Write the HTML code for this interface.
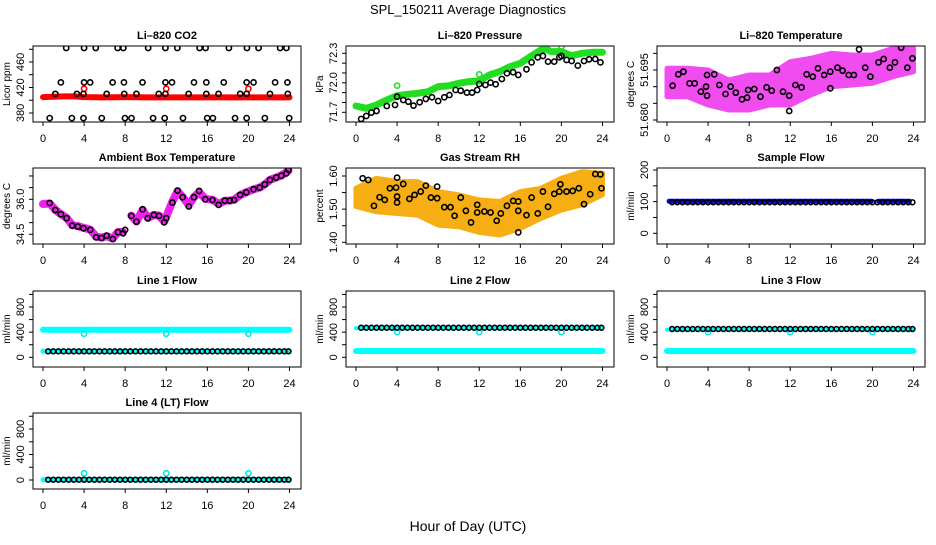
<!DOCTYPE html>
<html><head><meta charset="utf-8"><style>
html,body{margin:0;padding:0;background:#fff;}
svg text{font-family:"Liberation Sans",Arial,sans-serif;}
</style></head><body>
<svg id="chart" width="936" height="540" viewBox="0 0 936 540" xmlns="http://www.w3.org/2000/svg">
<rect x="0" y="0" width="936" height="540" fill="#fff"/>
<text x="468" y="14" text-anchor="middle" font-size="13">SPL_150211  Average Diagnostics</text>
<text x="468" y="531" text-anchor="middle" font-size="14">Hour of Day (UTC)</text>
</svg>
<script>
// ---------- data ----------
const xTicks = [0,4,8,12,16,20,24];
// CO2
const co2BlackH = [2.26,4.0,5.14,7.27,7.82,10.24,11.92,13.08,15.25,15.83,18.1,19.86,20.99,23.09,23.7,
  0.65,2.81,3.94,5.72,7.98,8.62,10.72,11.85,13.63,15.99,16.54,18.7,19.83,21.6,23.97,
  1.74,4,4.59,6.78,7.88,9.69,11.92,12.56,14.7,15.9,17.6,19.83,20.5,22.6,23.8,
  1.2,3.3,3.94,6.2,7.91,9.1,11.27,11.92,14.18,15.9,17.09,19.2,19.83,22.1,23.84];
const co2BlackV = [482,482,482,482,482,482,482,482,482,482,482,482,482,482,482,
  372,372,372,372,372,372,372,372,372,372,372,372,372,372,372,
  428,428,428,428,428,428,428,428,428,428,428,428,428,428,428,
  410,410,410,410,410,410,410,410,410,410,410,410,410,410,410];
const co2RedH = [0,1,2,3,4,6,8,10,12,14,16,18,20,22,24];
const co2RedV = [405,405.5,406,406,405,404.5,405,404.5,404.5,404.5,404.5,404.5,404.5,404.5,404.5];
const co2RedSpikeH = [4,12,20];
const co2RedSpikeV = [418,418,418];
// Pressure
const presGreenH = [0,1,2,3,4,5,6,7,8,9,10,11,12,13,14,15,16,17,18,18.5,19,20,21,22,23,24];
const presGreenV = [71.764,71.741,71.775,71.825,71.869,71.883,71.893,71.910,71.961,71.968,71.995,72.012,72.019,72.080,72.114,72.164,72.198,72.266,72.334,72.344,72.317,72.317,72.276,72.300,72.310,72.310];
const presGreenSpikeH = [4,12,20];
const presGreenSpikeV = [71.971,72.086,72.368];
const presBlackH = [0.5,1,1.5,2,3,3.8,4,4.6,5.1,5.6,6.2,6.8,7.4,8,8.6,9.1,9.7,10.2,10.8,11.3,11.8,12,12.6,13.1,13.6,14.2,14.7,15.3,15.8,16.6,17.1,17.7,18.2,18.7,19.3,19.8,20,20.5,21,21.6,22.2,22.7,23.3,23.8];
const presBlackV = [71.632,71.663,71.697,71.714,71.764,71.775,71.859,71.825,71.808,71.768,71.802,71.836,71.853,71.815,71.853,71.876,71.927,71.920,71.900,71.900,71.927,71.988,71.978,72.002,71.985,72.039,72.097,72.107,72.080,72.137,72.208,72.259,72.273,72.215,72.215,72.259,72.273,72.232,72.222,72.175,72.222,72.239,72.242,72.208];
// Li-820 temperature
const tempBandH = [0,2,4,6,8,10,12,14,16,18,20,22,24];
const tempBandHi = [51.6955,51.6955,51.695,51.692,51.6935,51.6935,51.6975,51.6985,51.700,51.6995,51.6995,51.7015,51.7015];
const tempBandLo = [51.687,51.687,51.6845,51.683,51.683,51.6845,51.6845,51.6875,51.690,51.6905,51.691,51.693,51.6945];
const tempBlackH = [0.55,1.1,1.6,2.2,2.7,3.3,3.8,3.9,3.9,4.6,5.1,5.7,6.2,6.7,7.3,7.8,7.9,8.5,9.1,9.7,10.2,10.7,11.3,11.9,11.9,12.5,13.1,13.6,14.2,14.7,15.3,15.9,15.9,16.6,17.1,17.7,18.2,18.7,19.3,19.8,20.6,21.1,21.7,22.2,22.8,23.4,23.9];
const tempBlackV = [51.6903,51.6937,51.6945,51.691,51.691,51.6885,51.690,51.6935,51.6873,51.6937,51.6905,51.6878,51.690,51.6882,51.6862,51.6867,51.689,51.6893,51.687,51.6898,51.6888,51.695,51.6885,51.6873,51.6827,51.6905,51.6898,51.6937,51.693,51.6955,51.6935,51.6895,51.6945,51.6957,51.6948,51.6935,51.6935,51.7012,51.6957,51.693,51.6973,51.6983,51.6957,51.6973,51.7017,51.6957,51.6985];
// Ambient box temperature
const ambBlackH = [0.65,1.2,1.74,2.3,2.84,3.4,3.94,4.6,5.17,5.7,6.2,6.8,7.3,7.8,8,8.6,9.1,9.7,10.2,10.8,11.3,11.8,12,12.6,13.1,13.6,14.2,14.7,15.2,15.8,16.5,17.1,17.7,18.2,18.6,19.2,19.8,20.5,21.1,21.6,22.1,22.7,23.2,23.7,23.9];
const ambBlackV = [35.84,35.54,35.36,35.19,34.87,34.83,34.76,34.69,34.37,34.34,34.44,34.30,34.59,34.54,34.69,35.29,35.04,35.57,35.19,35.33,35.29,35.01,35.19,35.86,36.37,36.09,35.69,36.09,36.36,36.00,35.97,35.76,35.94,35.94,35.97,36.19,36.30,36.43,36.50,36.64,36.83,36.93,37.01,37.11,37.26];
const ambPinkH = [0,0.65,1.2,1.74,2.3,2.84,3.4,3.94,4.6,5.17,5.7,6.2,6.8,7.3,7.8,7.9,8.6,9.1,9.7,10.2,10.8,11.3,11.8,12.6,13.1,13.6,14.2,14.7,15.2,15.8,16.5,17.1,17.7,18.2,18.6,19.2,19.8,20.5,21.1,21.6,22.1,22.7,23.2,23.9];
const ambPinkV = [35.8,35.82,35.55,35.36,35.2,34.9,34.85,34.78,34.7,34.4,34.36,34.42,34.32,34.6,34.6,null,35.3,35.05,35.55,35.2,35.33,35.3,35.05,35.9,36.35,36.1,35.75,36.1,36.3,36.02,35.98,35.8,35.94,35.95,35.98,36.18,36.3,36.43,36.5,36.64,36.83,36.93,37.02,37.22];
// Gas stream RH
const rhBandH = [0,2,4,6,8,10,12,14,16,18,20,22,24];
const rhBandHi = [1.563,1.593,1.583,1.583,1.553,1.543,1.528,1.523,1.553,1.563,1.593,1.613,1.608];
const rhBandLo = [1.508,1.492,1.487,1.482,1.452,1.447,1.430,1.422,1.442,1.472,1.497,1.513,1.543];
const rhBlackH = [0.65,1.2,1.75,2.3,2.8,3.3,3.9,4,4,4,4.6,5.2,5.7,6.3,6.8,7.3,7.9,7.9,8.6,9.2,9.6,10.2,10.7,11.2,11.8,11.8,12.5,13.1,13.7,14.1,14.7,15.3,15.8,15.8,15.8,16.6,17.1,17.7,18.2,18.7,19.3,19.8,19.9,20.5,21.1,21.7,22.2,22.8,23.3,23.8,23.9];
const rhBlackV = [1.593,1.588,1.51,1.536,1.528,1.563,1.565,1.595,1.538,1.52,1.576,1.531,1.543,1.553,1.571,1.535,1.568,1.533,1.506,1.506,1.48,1.535,1.495,1.46,1.513,1.49,1.493,1.49,1.465,1.487,1.51,1.525,1.523,1.495,1.43,1.482,1.535,1.487,1.553,1.507,1.546,1.553,1.575,1.553,1.555,1.563,1.515,1.545,1.606,1.605,1.563];
// Flows (black circles, half-hourly)
const flowH = [0.5,1,1.5,2,2.5,3,3.5,4,4.5,5,5.5,6,6.5,7,7.5,8,8.5,9,9.5,10,10.5,11,11.5,12,12.5,13,13.5,14,14.5,15,15.5,16,16.5,17,17.5,18,18.5,19,19.5,20,20.5,21,21.5,22,22.5,23,23.5,23.9];
const sampleBlackV = [98,98,98,98,98,98,98,98,98,98,98,98,98,98,98,98,98,98,98,98,98,98,98,98,98,98,98,98,98,98,98,98,98,98,98,98,98,98,98,98,98,98,98,98,98,98,98,98];
const line1BlackV = [95,95,95,95,95,95,95,95,95,95,95,95,95,95,95,95,95,95,95,95,95,95,95,95,95,95,95,95,95,95,95,95,95,95,95,95,95,95,95,95,95,95,95,95,95,95,95,95];
const line2BlackV = [470,470,470,470,470,470,470,470,470,470,470,470,470,470,470,470,470,470,470,470,470,470,470,470,470,470,470,470,470,470,470,470,470,470,470,470,470,470,470,470,470,470,470,470,470,470,470,470];
const line3BlackV = [450,450,450,450,450,450,450,450,450,450,450,450,450,450,450,450,450,450,450,450,450,450,450,450,450,450,450,450,450,450,450,450,450,450,450,450,450,450,450,450,450,450,450,450,450,450,450,450];
const line4BlackV = [5,5,5,5,5,5,5,5,5,5,5,5,5,5,5,5,5,5,5,5,5,5,5,5,5,5,5,5,5,5,5,5,5,5,5,5,5,5,5,5,5,5,5,5,5,5,5,5];
const sampleBlueH = [0.2,19.9,null,20.6,23.6];
const sampleBlueV = [101,101,null,101,101];
const line1CyanH = [0,24]; const line1CyanHiV = [438,438]; const line1CyanLoV = [95,95];
const line2CyanH = [0,24]; const line2CyanHiV = [465,465]; const line2CyanLoV = [100,100];
const line3CyanH = [0,24]; const line3CyanHiV = [440,440]; const line3CyanLoV = [100,100];
const line4CyanH = [0,24]; const line4CyanV = [5,5];
const cyanSpikeH = [4,12,20];
const line1SpikeV = [375,375,375];
const line2SpikeV = [400,400,400];
const line3SpikeV = [400,400,400];
const line4SpikeV = [105,105,105];

// ---------- drawing ----------
const svg = document.getElementById('chart');
const NS = 'http://www.w3.org/2000/svg';
function el(tag, parent){ const e = document.createElementNS(NS, tag); parent.appendChild(e); return e; }

function makePanel(cfg){
  const g = el('g', svg);
  
  
  const L = cfg.left, T = cfg.top, W = 268, H = 76;
  const x = h => L + 10 + h * 10.27;
  const y = v => cfg.p1 + (v - cfg.v1) * (cfg.p2 - cfg.p1) / (cfg.v2 - cfg.v1);
  const t = el('text', g);
  
  
  t.setAttribute('x', L + W/2); t.setAttribute('y', T - 7);
  t.setAttribute('text-anchor', 'middle'); t.setAttribute('font-size', '11'); t.setAttribute('font-weight', 'bold');
  t.textContent = cfg.title;
  // x axis
  xTicks.forEach(h => {
    const tk = el('line', g);
    
    
    tk.setAttribute('x1', x(h)); tk.setAttribute('x2', x(h)); tk.setAttribute('y1', T+H); tk.setAttribute('y2', T+H+4);
    tk.setAttribute('stroke', '#000');
    const lb = el('text', g);
    
    
    lb.setAttribute('x', x(h)); lb.setAttribute('y', T+H+20);
    lb.setAttribute('text-anchor', 'middle'); lb.setAttribute('font-size', '11');
    lb.textContent = String(h);
  });
  // y axis
  cfg.yTicks.forEach(v => {
    const tk = el('line', g);
    
    
    tk.setAttribute('x1', L-4); tk.setAttribute('x2', L); tk.setAttribute('y1', y(v)); tk.setAttribute('y2', y(v));
    tk.setAttribute('stroke', '#000');
  });
  cfg.yLabels.forEach(s => {
    const lb = el('text', g);
    
    
    const yy = y(parseFloat(s));
    lb.setAttribute('transform', `translate(${L-9},${yy}) rotate(-90)`);
    lb.setAttribute('text-anchor', 'middle'); lb.setAttribute('font-size', '11');
    lb.textContent = s;
  });
  const yl = el('text', g);
  
  
  yl.setAttribute('transform', `translate(${L-23},${T+H/2}) rotate(-90)`);
  yl.setAttribute('text-anchor', 'middle'); yl.setAttribute('font-size', '10');
  yl.textContent = cfg.ylab;
  const clip = el('clipPath', g);
  clip.setAttribute('id', 'clip-' + cfg.name);
  const cr = el('rect', clip);
  cr.setAttribute('x', L); cr.setAttribute('y', T); cr.setAttribute('width', W); cr.setAttribute('height', H);
  const plot = el('g', g);
  
  
  plot.setAttribute('clip-path', `url(#clip-${cfg.name})`);
  const box = el('rect', g);
  
  
  box.setAttribute('x', L); box.setAttribute('y', T); box.setAttribute('width', W); box.setAttribute('height', H);
  box.setAttribute('fill', 'none'); box.setAttribute('stroke', '#000');
  return {plot, x, y};
}

function points(P, hs, vs, color, name, r, sw){
  hs.forEach((h, i) => {
    const c = el('circle', P.plot);
    
    
    c.setAttribute('cx', P.x(h)); c.setAttribute('cy', P.y(vs[i]));
    c.setAttribute('r', r || 2.6); c.setAttribute('fill', 'none');
    c.setAttribute('stroke', color); c.setAttribute('stroke-width', sw || 1.6);
  });
}
function band(P, hs, vs, color, width, name){
  let d = '', pen = false;
  hs.forEach((h, i) => {
    if (h === null || vs[i] === null){ pen = false; return; }
    d += (pen ? 'L' : 'M') + P.x(h).toFixed(1) + ',' + P.y(vs[i]).toFixed(1);
    pen = true;
  });
  const p = el('path', P.plot);
  
  
  p.setAttribute('d', d); p.setAttribute('fill', 'none'); p.setAttribute('stroke', color);
  p.setAttribute('stroke-width', width); p.setAttribute('stroke-linecap', 'round'); p.setAttribute('stroke-linejoin', 'round');
}
function area(P, hs, hi, lo, color, name){
  let d = '';
  hs.forEach((h, i) => { d += (i ? 'L' : 'M') + P.x(h).toFixed(1) + ',' + P.y(hi[i]).toFixed(1); });
  for (let i = hs.length - 1; i >= 0; i--) d += 'L' + P.x(hs[i]).toFixed(1) + ',' + P.y(lo[i]).toFixed(1);
  d += 'Z';
  const p = el('path', P.plot);
  
  
  p.setAttribute('d', d); p.setAttribute('fill', color);
  p.setAttribute('stroke', color); p.setAttribute('stroke-width', 5); p.setAttribute('stroke-linejoin', 'round');
}

const C = [33, 346, 657], R = [46, 168, 291, 413];

// CO2
let P = makePanel({name:'co2-panel', title:'Li\u2013820 CO2', ylab:'Licor ppm', left:C[0], top:R[0], v1:380, p1:113, v2:460, p2:62,
  yTicks:[380,400,420,440,460,480], yLabels:['380','420','460']});
band(P, co2RedH, co2RedV, '#ff0000', 6, 'co2-red-series');
points(P, co2RedSpikeH, co2RedSpikeV, '#ff0000', 'co2-red-point');
points(P, co2BlackH, co2BlackV, '#000', 'co2-black-point');

// Pressure
P = makePanel({name:'pressure-panel', title:'Li\u2013820 Pressure', ylab:'kPa', left:C[1], top:R[0], v1:71.7, p1:112.3, v2:72.3, p2:53.3,
  yTicks:[71.7,71.8,71.9,72.0,72.1,72.2,72.3], yLabels:['71.7','72.0','72.3']});
band(P, presGreenH, presGreenV, '#22dd22', 7, 'pressure-green-series');
points(P, presGreenSpikeH, presGreenSpikeV, '#22dd22', 'pressure-green-point');
points(P, presBlackH, presBlackV, '#000', 'pressure-black-point');

// Li-820 temperature
P = makePanel({name:'li820-temp-panel', title:'Li\u2013820 Temperature', ylab:'degrees C', left:C[2], top:R[0], v1:51.680, p1:120, v2:51.695, p2:70,
  yTicks:[51.680,51.685,51.690,51.695,51.700], yLabels:['51.680','51.695']});
area(P, tempBandH, tempBandHi, tempBandLo, '#f04cf0', 'temp-magenta-cloud');
points(P, tempBlackH, tempBlackV, '#000', 'temp-black-point');

// Ambient
P = makePanel({name:'ambient-temp-panel', title:'Ambient Box Temperature', ylab:'degrees C', left:C[0], top:R[1], v1:34.5, p1:234.3, v2:36.0, p2:199.3,
  yTicks:[34.5,35.0,35.5,36.0,36.5,37.0], yLabels:['34.5','36.0']});
band(P, ambPinkH, ambPinkV, '#ee22ee', 8, 'ambient-magenta-series');
points(P, ambBlackH, ambBlackV, '#000', 'ambient-black-point');

// RH
P = makePanel({name:'rh-panel', title:'Gas Stream RH', ylab:'percent', left:C[1], top:R[1], v1:1.40, p1:242.3, v2:1.60, p2:176,
  yTicks:[1.40,1.45,1.50,1.55,1.60], yLabels:['1.40','1.50','1.60']});
area(P, rhBandH, rhBandHi, rhBandLo, '#f6ae14', 'rh-orange-cloud');
points(P, rhBlackH, rhBlackV, '#000', 'rh-black-point');

// Sample flow
P = makePanel({name:'sample-flow-panel', title:'Sample Flow', ylab:'ml/min', left:C[2], top:R[1], v1:0, p1:233.3, v2:200, p2:170,
  yTicks:[0,50,100,150,200], yLabels:['0','100','200']});
band(P, sampleBlueH, sampleBlueV, '#0000ff', 5, 'sample-blue-series');
points(P, flowH, sampleBlackV, '#000', 'sample-black-point', 2.4, 1.6);

// Line flows
const flowTicks = [0,200,400,600,800,1000], flowLabels = ['0','400','800'];
P = makePanel({name:'line1-flow-panel', title:'Line 1 Flow', ylab:'ml/min', left:C[0], top:R[2], v1:0, p1:357.3, v2:800, p2:307, yTicks:flowTicks, yLabels:flowLabels});
band(P, line1CyanH, line1CyanHiV, '#00ffff', 6, 'line1-cyan-high');
band(P, line1CyanH, line1CyanLoV, '#00ffff', 5, 'line1-cyan-low');
points(P, cyanSpikeH, line1SpikeV, '#00e8e8', 'line1-cyan-point');
points(P, flowH, line1BlackV, '#000', 'line1-black-point', 2.4, 1.6);

P = makePanel({name:'line2-flow-panel', title:'Line 2 Flow', ylab:'ml/min', left:C[1], top:R[2], v1:0, p1:357.3, v2:800, p2:307, yTicks:flowTicks, yLabels:flowLabels});
band(P, line2CyanH, line2CyanHiV, '#00ffff', 4, 'line2-cyan-high');
band(P, line2CyanH, line2CyanLoV, '#00ffff', 6, 'line2-cyan-low');
points(P, cyanSpikeH, line2SpikeV, '#00e8e8', 'line2-cyan-point');
points(P, flowH, line2BlackV, '#000', 'line2-black-point', 2.4, 1.6);

P = makePanel({name:'line3-flow-panel', title:'Line 3 Flow', ylab:'ml/min', left:C[2], top:R[2], v1:0, p1:357.3, v2:800, p2:307, yTicks:flowTicks, yLabels:flowLabels});
band(P, line3CyanH, line3CyanHiV, '#00ffff', 4, 'line3-cyan-high');
band(P, line3CyanH, line3CyanLoV, '#00ffff', 6, 'line3-cyan-low');
points(P, cyanSpikeH, line3SpikeV, '#00e8e8', 'line3-cyan-point');
points(P, flowH, line3BlackV, '#000', 'line3-black-point', 2.4, 1.6);

P = makePanel({name:'line4-flow-panel', title:'Line 4 (LT) Flow', ylab:'ml/min', left:C[0], top:R[3], v1:0, p1:480, v2:800, p2:429, yTicks:flowTicks, yLabels:flowLabels});
band(P, line4CyanH, line4CyanV, '#00ffff', 5, 'line4-cyan-series');
points(P, cyanSpikeH, line4SpikeV, '#00e8e8', 'line4-cyan-point');
points(P, flowH, line4BlackV, '#000', 'line4-black-point', 2.4, 1.6);
</script>
</body></html>
